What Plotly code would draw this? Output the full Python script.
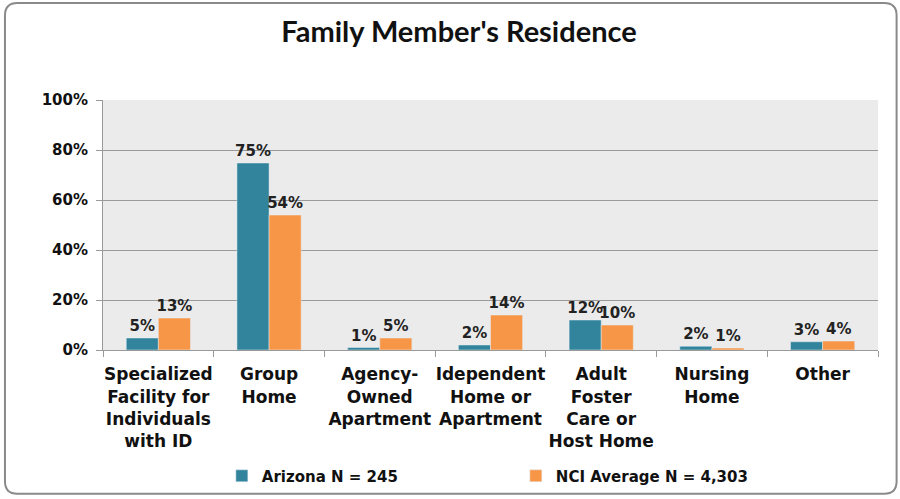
import plotly.graph_objects as go

categories = [
    "Specialized<br>Facility for<br>Individuals<br>with ID",
    "Group<br>Home",
    "Agency-<br>Owned<br>Apartment",
    "Idependent<br>Home or<br>Apartment",
    "Adult<br>Foster<br>Care or<br>Host Home",
    "Nursing<br>Home",
    "Other",
]
arizona = [4.8, 74.8, 1.0, 2.0, 12.0, 1.5, 3.3]
arizona_labels = ["5%", "75%", "1%", "2%", "12%", "2%", "3%"]
nci = [12.8, 54.0, 4.8, 14.0, 10.0, 0.8, 3.6]
nci_labels = ["13%", "54%", "5%", "14%", "10%", "1%", "4%"]
y_ticks = [0, 20, 40, 60, 80, 100]
y_tick_labels = ["0%", "20%", "40%", "60%", "80%", "100%"]

BOLD = "DejaVu Sans"
fig = go.Figure()
fig.add_trace(go.Bar(
    x=categories, y=arizona, name="Arizona N = 245",
    marker=dict(color="#31849B"), text=arizona_labels, textposition="outside",
    textfont=dict(family=BOLD, size=15, color="#222", weight="bold"),
    cliponaxis=False, constraintext="none",
))
fig.add_trace(go.Bar(
    x=categories, y=nci, name="NCI Average N = 4,303",
    marker=dict(color="#F79646"), text=nci_labels, textposition="outside",
    textfont=dict(family=BOLD, size=15, color="#222", weight="bold"),
    cliponaxis=False, constraintext="none",
))

# rounded border
L, R, T, B = -0.1265, 1.024, 1.388, -0.575
rx, ry = 0.016, 0.05
path = (f"M {L+rx},{T} L {R-rx},{T} Q {R},{T} {R},{T-ry} L {R},{B+ry} Q {R},{B} {R-rx},{B} "
        f"L {L+rx},{B} Q {L},{B} {L},{B+ry} L {L},{T-ry} Q {L},{T} {L+rx},{T} Z")

fig.update_layout(
    width=900, height=499,
    paper_bgcolor="white", plot_bgcolor="#EBEBEB",
    margin=dict(l=103, r=22, t=100, b=149),
    barmode="group", bargap=0.42, bargroupgap=0.0,
    title=dict(text="<b>Family Member's Residence</b>", x=0.51, xanchor="center",
               y=0.936, yanchor="middle",
               font=dict(family="Lato", size=29, color="#111")),
    font=dict(family=BOLD, color="#111"),
    yaxis=dict(range=[0, 100], tickvals=y_ticks, ticktext=y_tick_labels,
               showgrid=True, gridcolor="#9A9A9A", gridwidth=1,
               showline=True, linecolor="#9A9A9A", linewidth=1,
               ticks="outside", ticklen=6, tickcolor="#9A9A9A", ticklabelstandoff=5,
               tickfont=dict(family=BOLD, size=15, color="#111", weight="bold"),
               zeroline=False, fixedrange=True, automargin=False),
    xaxis=dict(showline=True, linecolor="#9A9A9A", linewidth=1,
               ticks="outside", tickson="boundaries", ticklen=6, tickcolor="#9A9A9A",
               ticklabelstandoff=9,
               tickfont=dict(family=BOLD, size=17, color="#111", weight="bold"),
               tickangle=0, automargin=False),
    legend=dict(orientation="h", xref="container", yref="container",
                x=0.2465, xanchor="left", y=0.046, yanchor="middle",
                entrywidth=249, entrywidthmode="pixels",
                bgcolor="rgba(0,0,0,0)",
                font=dict(family=BOLD, size=15, color="#111", weight="bold"),
                itemwidth=30, traceorder="normal"),
    shapes=[dict(type="path", path=path, xref="paper", yref="paper",
                 line=dict(color="#8A8A8A", width=2), fillcolor="rgba(0,0,0,0)", layer="below")],
    showlegend=True,
)

fig.write_html("out.html", config={"displayModeBar": False},
               post_script="document.body.style.margin='0';")
